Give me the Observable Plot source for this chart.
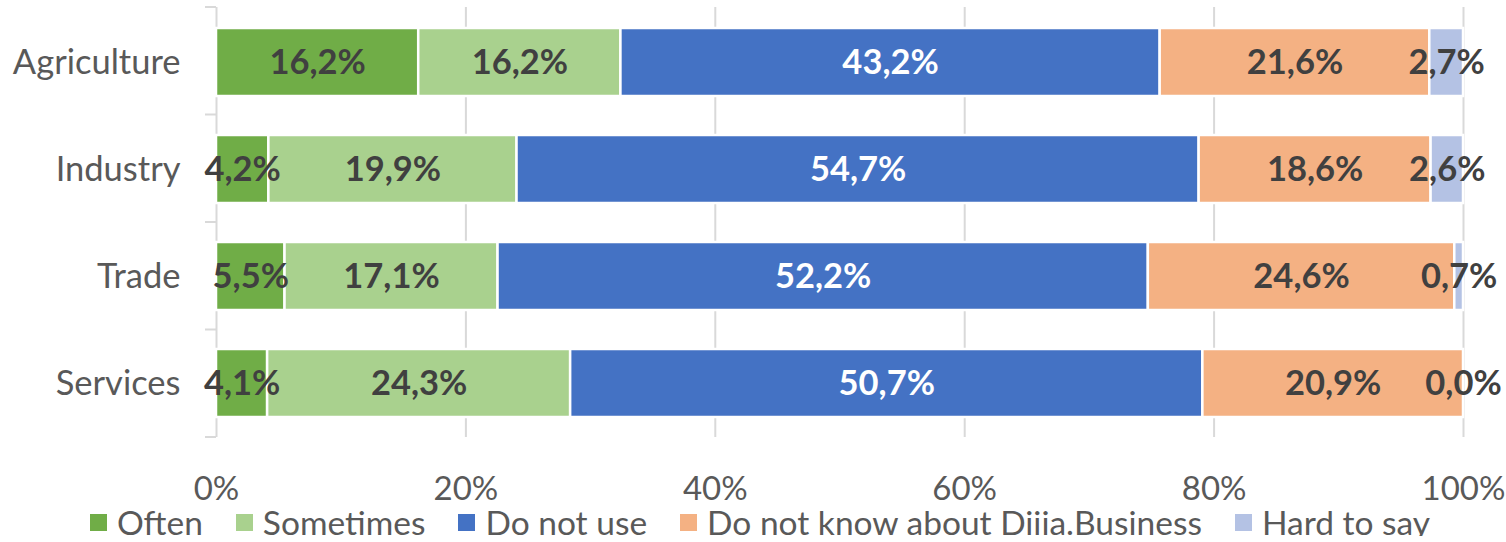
<!DOCTYPE html>
<html><head><meta charset="utf-8">
<script src="https://cdn.jsdelivr.net/npm/d3@7"></script>
<script src="https://cdn.jsdelivr.net/npm/@observablehq/plot@0.6"></script>
<style>
body{margin:0;background:#fff;font-family:Lato,sans-serif;}
#chart svg{display:block}
#legend{display:flex;justify-content:center;gap:33px;font-size:33.5px;color:#595959;line-height:28px;padding-left:14px;}
.item{display:flex;align-items:center;gap:10px;white-space:nowrap}
.sw{width:17px;height:17px;display:inline-block}
</style></head><body><div id="chart"></div><div id="legend"></div>
<script>
const categories = ["Agriculture","Industry","Trade","Services"];
const series = ["Often","Sometimes","Do not use","Do not know about Diiia.Business","Hard to say"];
const colors = ["#70AD47","#A9D18E","#4472C4","#F4B183","#B4C2E4"];
const often = [16.2,4.2,5.5,4.1];
const sometimes = [16.2,19.9,17.1,24.3];
const doNotUse = [43.2,54.7,52.2,50.7];
const doNotKnow = [21.6,18.6,24.6,20.9];
const hardToSay = [2.7,2.6,0.7,0.0];
const xTicks = [0,0.2,0.4,0.6,0.8,1];

const valuesBySeries = [often, sometimes, doNotUse, doNotKnow, hardToSay];
const data = [];
series.forEach((s, si) => categories.forEach((c, ci) => data.push({category: c, series: s, value: valuesBySeries[si][ci]})));
const fmt = v => v.toFixed(1).replace(".", ",") + "%";

const W = 1506, H = 508, mTop = 7, mBottom = 71, mLeft = 216, mRight = 43;

const yTickMarks = (index, scales, values, dims) => {
  const g = d3.create("svg:g");
  const x0 = scales.x(0);
  const n = categories.length;
  const step = (dims.height - dims.marginTop - dims.marginBottom) / n;
  for (let i = 0; i <= n; i++) {
    const y = dims.marginTop + i * step;
    g.append("line").attr("x1", x0 - 11).attr("x2", x0).attr("y1", y).attr("y2", y)
      .attr("stroke", "#d9d9d9").attr("stroke-width", 2);
  }
  return g.node();
};

const chart = Plot.plot({
  width: W, height: H,
  marginTop: mTop, marginBottom: mBottom, marginLeft: mLeft, marginRight: mRight,
  style: {fontFamily: "Lato, sans-serif", background: "#fff"},
  x: {domain: [0, 1]},
  y: {domain: categories, paddingInner: 0.367, paddingOuter: 0.1835},
  color: {domain: series, range: colors},
  marks: [
    Plot.gridX(xTicks.slice(1), {stroke: "#d9d9d9", strokeOpacity: 1, strokeWidth: 2}),
    Plot.ruleX([0], {stroke: "#d9d9d9", strokeWidth: 2}),
    yTickMarks,
    Plot.barX(data, Plot.stackX({offset: "normalize", order: series, x: "value", y: "category", fill: "series", stroke: "white", strokeWidth: 2.5})),
    Plot.text(data, Plot.stackX({offset: "normalize", order: series, x: "value", y: "category", z: "series",
      text: d => fmt(d.value), fill: d => d.series === "Do not use" ? "#ffffff" : "#404040",
      fontSize: 34.5, fontWeight: "bold"})),
    Plot.axisX({ticks: xTicks, tickFormat: d3.format(".0%"), tickSize: 0, tickPadding: 39, fontSize: 33, fill: "#595959", label: null}),
    Plot.axisY({tickSize: 0, tickPadding: 36, fontSize: 34.5, fill: "#595959", label: null})
  ]
});
document.getElementById("chart").appendChild(chart);

const legend = document.getElementById("legend");
series.forEach((s, i) => {
  const it = document.createElement("div"); it.className = "item";
  const sw = document.createElement("span"); sw.className = "sw"; sw.style.background = colors[i];
  const tx = document.createElement("span"); tx.textContent = s;
  it.appendChild(sw); it.appendChild(tx); legend.appendChild(it);
});
</script></body></html>
